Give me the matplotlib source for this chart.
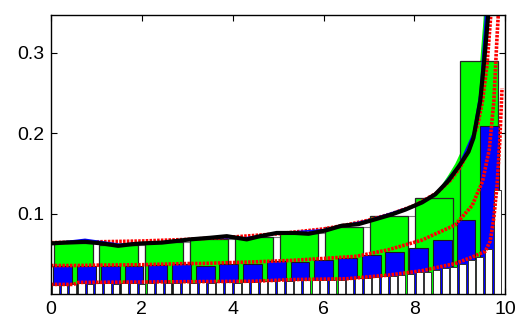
import numpy as np
from matplotlib import pyplot as plt

# histogram heights (fraction of samples per bin)
green_h = [0.063, 0.061, 0.065, 0.069, 0.071, 0.076, 0.084, 0.097, 0.120, 0.290]
blue_h = [0.035, 0.035, 0.035, 0.035, 0.036, 0.038, 0.035, 0.038, 0.037, 0.041,
          0.040, 0.042, 0.045, 0.049, 0.052, 0.057, 0.067, 0.092, 0.209]
white_h = [0.011, 0.011, 0.012, 0.014, 0.013, 0.014, 0.014, 0.013, 0.014, 0.014,
           0.013, 0.014, 0.015, 0.014, 0.014, 0.015, 0.014, 0.015, 0.014, 0.015,
           0.015, 0.014, 0.015, 0.015, 0.016, 0.016, 0.017, 0.016, 0.017, 0.017,
           0.018, 0.017, 0.018, 0.018, 0.019, 0.020, 0.020, 0.021, 0.022, 0.023,
           0.024, 0.025, 0.027, 0.028, 0.030, 0.032, 0.034, 0.037, 0.042, 0.046,
           0.056, 0.130]
data_max = 9.92

# empirical density (black) and companion line (blue)
black_x = [0, 0.3, 0.75, 1.12, 1.48, 1.78, 2.0, 2.44, 3.06, 3.5, 3.87, 4.31, 4.6, 4.97,
           5.37, 5.67, 6.04, 6.4, 6.77, 7.14, 7.5, 7.8, 8.17, 8.46, 8.75, 8.97, 9.19,
           9.3, 9.45, 9.55, 9.63, 9.7]
black_y = [0.063, 0.064, 0.065, 0.063, 0.060, 0.062, 0.063, 0.064, 0.068, 0.070, 0.072,
           0.068, 0.072, 0.076, 0.076, 0.075, 0.079, 0.085, 0.087, 0.093, 0.099, 0.105,
           0.114, 0.124, 0.141, 0.158, 0.177, 0.194, 0.240, 0.298, 0.350, 0.420]
blue_x = [0, 0.75, 1.5, 2.5, 3.5, 4.3, 5.0, 6.0, 7.0, 8.0, 8.5, 9.0, 9.3, 9.45, 9.55, 9.6]
blue_y = [0.063, 0.068, 0.062, 0.065, 0.070, 0.070, 0.076, 0.080, 0.092, 0.110, 0.126,
          0.162, 0.200, 0.250, 0.330, 0.380]

# green filled curve near the right end
fill_x = [8.42, 8.75, 8.9, 9.05, 9.2, 9.35, 9.45, 9.52, 9.58]
fill_y = [0.120, 0.148, 0.162, 0.180, 0.205, 0.240, 0.290, 0.340, 0.400]

# theoretical curves (red dotted) for the three bin widths
red1_x = [0, 1, 2, 3, 4, 5, 6, 6.5, 7, 7.5, 8, 8.5, 8.8, 9.0, 9.2, 9.4, 9.5, 9.6, 9.7, 9.8]
red1_y = [0.064, 0.065, 0.066, 0.068, 0.071, 0.075, 0.081, 0.086, 0.092, 0.100, 0.110,
          0.126, 0.142, 0.157, 0.178, 0.212, 0.240, 0.285, 0.360, 0.500]
red2_x = [0, 0.5, 1, 2, 3, 3.3, 4.46, 5.34, 6.2, 6.73, 7.42, 8.16, 8.9, 9.27, 9.5, 9.65,
          9.75, 9.82, 9.86, 9.93]
red2_y = [0.0355, 0.0355, 0.036, 0.0365, 0.038, 0.038, 0.040, 0.042, 0.045, 0.047, 0.055,
          0.067, 0.086, 0.110, 0.140, 0.180, 0.240, 0.320, 0.360, 0.500]
red3_x = [0, 0.5, 0.6, 2, 3.3, 4.5, 5.3, 6.5, 6.7, 7.42, 8.16, 8.9, 9.27, 9.56, 9.67,
          9.75, 9.82, 9.88, 9.93]
red3_y = [0.012, 0.012, 0.0145, 0.015, 0.0155, 0.016, 0.018, 0.019, 0.020, 0.0235, 0.029,
          0.038, 0.046, 0.053, 0.066, 0.095, 0.135, 0.190, 0.256]


def centers(n):
    e = np.linspace(0, data_max, n + 1)
    return (e[:-1] + e[1:]) / 2, e[1] - e[0]


fig = plt.figure(figsize=(5.15, 3.2), dpi=100)
ax = fig.add_axes([0.099, 0.081, 0.882, 0.872])

gc, gw = centers(len(green_h))
bc, bw = centers(len(blue_h))
wc, ww = centers(len(white_h))

ax.bar(gc[:-1] + 0.095, green_h[:-1], width=gw, color='white', edgecolor='0.5',
       linewidth=0.8, zorder=1)
ax.fill_between(fill_x, 0, fill_y, color='#00ff00', linewidth=0, zorder=1.5)
ax.bar(gc, green_h, width=0.84, color='#00ff00', edgecolor='0.15', linewidth=0.9, zorder=2)
ax.bar(bc, blue_h, width=0.8 * bw, color='#0000ff', edgecolor='0.1', linewidth=0.8, zorder=3)
ax.bar(wc, white_h, width=0.8 * ww, color='white', edgecolor='0.2', linewidth=0.7, zorder=4)

dots = (0, (0.7, 0.35))
for rx, ry in [(red1_x, red1_y), (red2_x, red2_y), (red3_x, red3_y)]:
    ax.plot(rx, ry, color='red', linestyle=dots, linewidth=2.6, dash_capstyle='butt', zorder=5)
ax.plot(blue_x, blue_y, color='#0000ff', linewidth=1.2, zorder=5.5)
ax.plot(black_x, black_y, color='black', linewidth=3, zorder=6)

ax.set_xlim(0, 10)
ax.set_ylim(0, 0.347)
ax.set_xticks([0, 2, 4, 6, 8, 10])
ax.set_yticks([0.1, 0.2, 0.3])
ax.set_yticklabels(['0.1', '0.2', '0.3'])
ax.tick_params(direction='in', top=True, right=True, length=4, width=0.8,
               labelsize=14, pad=5)
for lab in ax.get_xticklabels() + ax.get_yticklabels():
    lab.set_family(['Liberation Sans', 'DejaVu Sans'])
for s in ax.spines.values():
    s.set_linewidth(1.0)
    s.set_zorder(10)

fig.savefig('out.png', dpi=100)
